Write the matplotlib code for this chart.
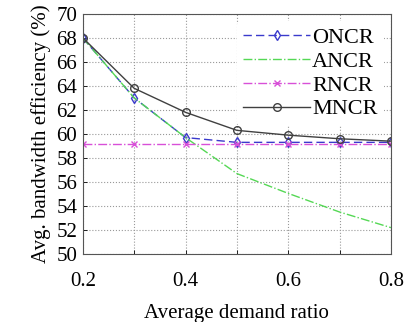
import matplotlib
matplotlib.use('Agg')
import matplotlib.pyplot as plt
import numpy as np

# data
demand = [0.2, 0.3, 0.4, 0.5, 0.6, 0.7, 0.8]
oncr = [68.0, 63.0, 59.7, 59.3, 59.3, 59.3, 59.3]
ancr = [68.0, 63.0, 59.7, 56.7, 55.05, 53.5, 52.2]
rncr = [59.2, 59.2, 59.2, 59.2, 59.2, 59.2, 59.2]
mncr = [68.0, 63.8, 61.8, 60.3, 59.9, 59.6, 59.4]

plt.rcParams['font.family'] = ['Liberation Serif', 'DejaVu Serif']
plt.rcParams['font.size'] = 15

fig = plt.figure(figsize=(4.06, 3.22), dpi=100)
ax = fig.add_axes([0.204, 0.211, 0.759, 0.746])

ax.plot(demand, oncr, color='#3a3acc', linestyle=(0, (6, 3)), lw=1.0,
        marker='d', markersize=5.5, markerfacecolor='none', label='ONCR')
ax.plot(demand, ancr, color='#55d855', linestyle='-.', lw=1.0, label='ANCR')
ax.plot(demand, rncr, color='#d850d8', linestyle='-.', lw=1.0,
        marker='x', markersize=5, label='RNCR')
ax.plot(demand, mncr, color='#404040', linestyle='-', lw=1.0,
        marker='o', markersize=5.5, markerfacecolor='none', label='MNCR')

ax.set_xlim(0.2, 0.8)
ax.set_ylim(50, 70)
ax.set_xticks(np.arange(0.2, 0.81, 0.1))
ax.set_xticklabels(['0.2', '', '0.4', '', '0.6', '', '0.8'])
ax.set_yticks(np.arange(50, 71, 2))
ax.tick_params(direction='in', length=3, width=0.6, pad=4)
ax.tick_params(axis='x', pad=13)
ax.grid(True, linestyle=':', color='#999999', lw=0.8)
for s in ax.spines.values():
    s.set_color('#555555')
    s.set_linewidth(0.8)

ax.set_xlabel('Average demand ratio', labelpad=9)
ax.set_ylabel('Avg. bandwidth efficiency (%)', labelpad=4)

leg = ax.legend(loc='upper right', frameon=True, handlelength=3.0,
                handletextpad=0.1, labelspacing=0.15, borderpad=0.3,
                borderaxespad=0.3, fontsize=16)
leg.get_frame().set_facecolor('white')
leg.get_frame().set_edgecolor('none')
leg.get_frame().set_alpha(1)

fig.savefig('out.png', dpi=100)
